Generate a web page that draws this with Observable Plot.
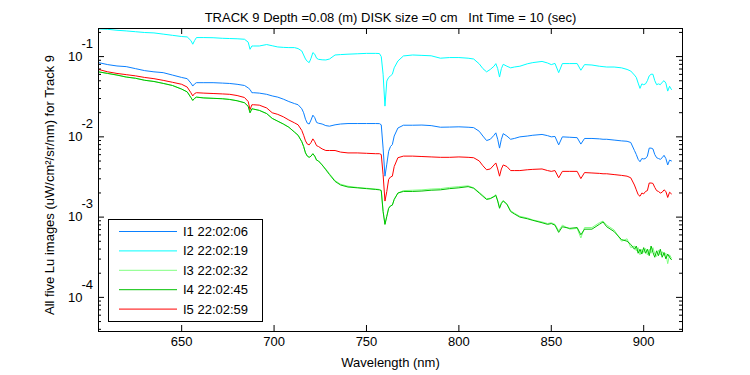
<!DOCTYPE html>
<html>
<head>
<meta charset="utf-8">
<script src="https://cdn.jsdelivr.net/npm/d3@7"></script>
<script src="https://cdn.jsdelivr.net/npm/@observablehq/plot@0.6"></script>
<style>
  body { margin: 0; background: #fff; }
  #wrap { position: relative; width: 750px; height: 375px; font-family: "Liberation Sans", Arial, sans-serif; }
  #legend { position: absolute; left: 108px; top: 219px; }
</style>
</head>
<body>
<div id="wrap"><div id="chart"></div><div id="legend"></div></div>
<script>
// ---- data (log10 of radiance) ----
const wavelengths = [
  605,610,615,620,625,630,635,640,645,
  650,653,655,656,657,658,662,667,672,676,680,684,
  686,687,688,689,692,696,699,702,705,708,711,713,
  715,716,717,718,719,720,721,722,723,724,726,728,730,
  733,736,740,745,750,755,757,758,
  759,760,761,762,763,764,765,767,
  770,775,780,785,790,795,800,805,808,
  811,813,815,817,819,820,821,822,823,824,826,828,830,
  833,837,840,845,848,850,852,854,856,
  860,864,866,868,872,876,878,880,884,888,891,893,
  895,896,897,898,899,900,901,902,903,904,905,906,907,908,909,910,911,912,913,914,915
];
const seriesNames = ["I1 22:02:06", "I2 22:02:19", "I3 22:02:32", "I4 22:02:45", "I5 22:02:59"];
const seriesColors = ["#0a80ff", "#00ffff", "#80ff80", "#00c000", "#ff0000"];
const i1Log = [
  -1.075,-1.10,-1.117,-1.125,-1.15,-1.175,-1.19,-1.20,-1.23,
  -1.26,-1.275,-1.33,-1.367,-1.34,-1.325,-1.325,-1.325,-1.33,-1.335,-1.345,-1.36,
  -1.39,-1.41,-1.45,-1.45,-1.455,-1.47,-1.49,-1.505,-1.53,-1.56,-1.585,-1.60,
  -1.65,-1.70,-1.78,-1.83,-1.84,-1.79,-1.73,-1.76,-1.82,-1.83,-1.84,-1.86,-1.867,
  -1.85,-1.84,-1.834,-1.834,-1.834,-1.834,-1.835,-1.85,
  -2.14,-2.49,-2.34,-2.18,-2.12,-2.096,-1.99,-1.89,
  -1.855,-1.855,-1.853,-1.86,-1.88,-1.878,-1.875,-1.88,-1.885,
  -1.93,-1.99,-2.046,-2.03,-1.98,-1.95,-2.03,-2.14,-2.03,-1.96,-1.99,-2.03,-2.02,
  -2.0,-1.99,-1.98,-1.97,-1.985,-2.0,-1.995,-2.1,-2.0,
  -2.005,-2.01,-2.09,-2.02,-2.02,-2.025,-2.03,-2.03,-2.04,-2.05,-2.055,-2.07,
  -2.17,-2.22,-2.28,-2.31,-2.27,-2.275,-2.27,-2.24,-2.14,-2.14,-2.15,-2.22,-2.26,-2.27,-2.28,-2.26,-2.23,-2.27,-2.35,-2.29,-2.30
];
const i2Log = [
  -0.655,-0.66,-0.672,-0.68,-0.69,-0.70,-0.705,-0.72,-0.735,
  -0.75,-0.755,-0.80,-0.846,-0.80,-0.763,-0.763,-0.765,-0.772,-0.775,-0.778,-0.784,
  -0.82,-0.909,-0.868,-0.868,-0.868,-0.85,-0.865,-0.88,-0.885,-0.888,-0.888,-0.90,
  -0.93,-0.98,-1.03,-1.06,-1.075,-1.02,-0.95,-0.97,-1.02,-1.034,-1.04,-1.042,-1.03,
  -0.98,-0.975,-0.97,-0.965,-0.96,-0.96,-0.962,-1.0,
  -1.22,-1.617,-1.305,-1.26,-1.24,-1.22,-1.14,-1.055,
  -0.992,-0.98,-0.985,-0.99,-1.02,-1.012,-1.012,-1.02,-1.03,
  -1.09,-1.15,-1.19,-1.16,-1.12,-1.088,-1.15,-1.255,-1.15,-1.096,-1.12,-1.14,-1.13,
  -1.12,-1.09,-1.075,-1.06,-1.08,-1.10,-1.085,-1.2,-1.087,
  -1.087,-1.087,-1.17,-1.1,-1.105,-1.12,-1.125,-1.13,-1.13,-1.14,-1.16,-1.18,
  -1.23,-1.26,-1.33,-1.396,-1.34,-1.35,-1.34,-1.30,-1.24,-1.22,-1.22,-1.30,-1.35,-1.34,-1.35,-1.32,-1.30,-1.33,-1.43,-1.37,-1.41
];
const i3Log = [
  -1.19,-1.21,-1.23,-1.255,-1.27,-1.295,-1.31,-1.334,-1.36,
  -1.405,-1.44,-1.51,-1.546,-1.52,-1.505,-1.515,-1.52,-1.525,-1.534,-1.55,-1.575,
  -1.62,-1.70,-1.65,-1.655,-1.67,-1.71,-1.77,-1.805,-1.84,-1.88,-1.94,-1.98,
  -2.06,-2.12,-2.20,-2.24,-2.255,-2.24,-2.21,-2.24,-2.29,-2.30,-2.35,-2.40,-2.46,
  -2.545,-2.59,-2.615,-2.63,-2.64,-2.65,-2.655,-2.665,
  -2.93,-3.09,-2.99,-2.89,-2.86,-2.85,-2.78,-2.70,
  -2.67,-2.665,-2.66,-2.65,-2.645,-2.63,-2.62,-2.61,-2.635,
  -2.69,-2.73,-2.77,-2.765,-2.74,-2.72,-2.79,-2.88,-2.82,-2.79,-2.835,-2.92,-2.95,
  -2.99,-3.01,-3.035,-3.06,-3.08,-3.07,-3.09,-3.17,-3.10,
  -3.15,-3.14,-3.26,-3.13,-3.13,-3.07,-3.05,-3.10,-3.16,-3.30,-3.27,-3.38,
  -3.36,-3.42,-3.38,-3.47,-3.40,-3.44,-3.39,-3.47,-3.40,-3.45,-3.38,-3.46,-3.49,-3.41,-3.47,-3.43,-3.48,-3.45,-3.58,-3.47,-3.51
];
const i4Log = [
  -1.19,-1.21,-1.23,-1.255,-1.27,-1.295,-1.31,-1.334,-1.36,
  -1.405,-1.44,-1.51,-1.546,-1.52,-1.505,-1.515,-1.52,-1.525,-1.534,-1.55,-1.575,
  -1.62,-1.70,-1.65,-1.655,-1.67,-1.71,-1.77,-1.805,-1.84,-1.88,-1.94,-1.98,
  -2.06,-2.12,-2.20,-2.24,-2.255,-2.24,-2.21,-2.24,-2.29,-2.30,-2.35,-2.41,-2.47,
  -2.555,-2.60,-2.625,-2.635,-2.645,-2.655,-2.66,-2.67,
  -2.93,-3.09,-2.99,-2.89,-2.86,-2.85,-2.78,-2.70,
  -2.68,-2.68,-2.675,-2.665,-2.66,-2.645,-2.635,-2.62,-2.64,
  -2.70,-2.74,-2.78,-2.77,-2.745,-2.73,-2.80,-2.89,-2.83,-2.80,-2.84,-2.93,-2.96,
  -3.0,-3.02,-3.04,-3.07,-3.09,-3.08,-3.1,-3.19,-3.12,
  -3.14,-3.13,-3.22,-3.15,-3.15,-3.09,-3.06,-3.12,-3.18,-3.28,-3.30,-3.34,
  -3.40,-3.36,-3.45,-3.40,-3.46,-3.38,-3.45,-3.40,-3.48,-3.36,-3.44,-3.50,-3.42,-3.48,-3.40,-3.50,-3.44,-3.52,-3.46,-3.50,-3.53
];
const i5Log = [
  -1.16,-1.19,-1.21,-1.225,-1.24,-1.26,-1.275,-1.296,-1.32,
  -1.345,-1.38,-1.45,-1.49,-1.46,-1.45,-1.455,-1.46,-1.465,-1.47,-1.485,-1.51,
  -1.56,-1.66,-1.60,-1.60,-1.605,-1.64,-1.70,-1.72,-1.75,-1.79,-1.825,-1.85,
  -1.92,-1.98,-2.05,-2.09,-2.10,-2.07,-2.025,-2.06,-2.11,-2.12,-2.15,-2.17,-2.17,
  -2.17,-2.19,-2.20,-2.20,-2.205,-2.21,-2.21,-2.22,
  -2.47,-2.80,-2.68,-2.53,-2.50,-2.49,-2.37,-2.26,
  -2.24,-2.24,-2.245,-2.25,-2.255,-2.255,-2.25,-2.255,-2.26,
  -2.30,-2.36,-2.41,-2.40,-2.35,-2.325,-2.40,-2.49,-2.40,-2.35,-2.37,-2.42,-2.42,
  -2.42,-2.41,-2.405,-2.40,-2.42,-2.43,-2.42,-2.51,-2.43,
  -2.43,-2.43,-2.52,-2.445,-2.45,-2.455,-2.46,-2.46,-2.47,-2.48,-2.49,-2.51,
  -2.60,-2.66,-2.72,-2.74,-2.70,-2.71,-2.68,-2.67,-2.575,-2.575,-2.58,-2.63,-2.67,-2.68,-2.70,-2.69,-2.66,-2.68,-2.755,-2.69,-2.71
];
const xTicks = [650, 700, 750, 800, 850, 900];
const yTickExps = [-1, -2, -3, -4];
const titleText = "TRACK 9 Depth =0.08 (m) DISK size =0 cm\u00a0\u00a0 Int Time = 10 (sec)";
const xLabel = "Wavelength (nm)";
const yLabel = "All five Lu images (uW/cm\u00b2/sr/nm) for Track 9";

// ---- layout ----
const W = 750, H = 375;
const mTop = 28, mBottom = 44, mLeft = 98, mRight = 68;
const frameW = W - mLeft - mRight, frameH = H - mTop - mBottom;
const xDomain = [605, 921];
const yDomain = [10 ** -4.425, 10 ** -0.65];
const font = "'Liberation Sans', Arial, sans-serif";

const logs = [i1Log, i2Log, i3Log, i4Log, i5Log];
const seriesData = logs.map((arr, s) => wavelengths.map((w, i) => ({w, v: 10 ** arr[i], s})));

const yMajor = yTickExps.map(e => 10 ** e);
const yMinor = [];
for (let e = -5; e <= -1; e++) for (let m = 2; m <= 9; m++) {
  const v = m * 10 ** e;
  if (v >= yDomain[0] && v <= yDomain[1]) yMinor.push(v);
}

const black = "#000";
const marks = [
  ...seriesData.map((d, s) => Plot.line(d, {x: "w", y: "v", stroke: seriesColors[s], strokeWidth: 1})),
  Plot.frame({stroke: black, strokeWidth: 1}),
  // inward ticks on all four sides
  Plot.tickX(xTicks, {x: d => d, insetTop: frameH - 6, stroke: black}),
  Plot.tickX(xTicks, {x: d => d, insetBottom: frameH - 6, stroke: black}),
  Plot.tickY(yMajor, {y: d => d, insetRight: frameW - 6, stroke: black}),
  Plot.tickY(yMajor, {y: d => d, insetLeft: frameW - 6, stroke: black}),
  Plot.tickY(yMinor, {y: d => d, insetRight: frameW - 3, stroke: black}),
  Plot.tickY(yMinor, {y: d => d, insetLeft: frameW - 3, stroke: black}),
  // tick labels
  Plot.text(xTicks, {x: d => d, frameAnchor: "bottom", dy: 14, text: d => String(d), fontSize: 13, fill: black}),
  Plot.text(yMajor, {y: d => d, frameAnchor: "left", dx: -16, textAnchor: "end", text: () => "10", fontSize: 13, fill: black}),
  Plot.text(yTickExps, {y: e => 10 ** e, frameAnchor: "left", dx: -17, dy: -13, textAnchor: "start", text: e => String(e), fontSize: 13, fill: black}),
  // titles
  Plot.text([titleText], {frameAnchor: "top", dy: -16, text: d => d, fontSize: 13, fill: black}),
  Plot.text([xLabel], {frameAnchor: "bottom", dy: 35, text: d => d, fontSize: 13, fill: black}),
  Plot.text([yLabel], {frameAnchor: "left", dx: -49, dy: 5, rotate: -90, textAnchor: "middle", text: d => d, fontSize: 13, fill: black})
];

const chart = Plot.plot({
  width: W, height: H,
  marginTop: mTop, marginBottom: mBottom, marginLeft: mLeft, marginRight: mRight,
  x: {domain: xDomain, axis: null},
  y: {type: "log", domain: yDomain, axis: null},
  style: {fontFamily: font, fontSize: "13px", background: "#fff", color: black, overflow: "visible"},
  marks
});
document.getElementById("chart").appendChild(chart);

// ---- legend ----
const lw = 155, lh = 103;
const leg = d3.select("#legend").append("svg").attr("width", lw).attr("height", lh)
  .style("font-family", font).style("font-size", "13px");
leg.append("rect").attr("x", 0.5).attr("y", 0.5).attr("width", lw - 1).attr("height", lh - 1)
  .attr("fill", "#fff").attr("stroke", black);
seriesNames.forEach((name, i) => {
  const yy = 12.5 + i * 19.4;
  leg.append("line").attr("x1", 11).attr("x2", 69).attr("y1", yy).attr("y2", yy)
    .attr("stroke", seriesColors[i]).attr("stroke-width", 1);
  leg.append("text").attr("x", 75).attr("y", yy).attr("dy", "0.35em").attr("fill", black).text(name);
});
</script>
</body>
</html>
